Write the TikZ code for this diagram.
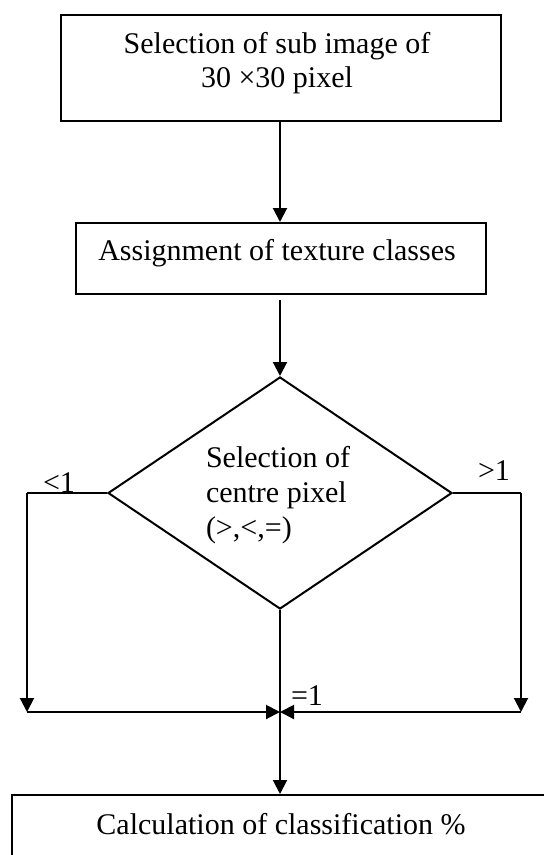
\documentclass[tikz,border=0pt]{standalone}
\usepackage{fontspec}
\setmainfont{Liberation Serif}
\usetikzlibrary{shapes.geometric,arrows.meta}
\begin{document}
\begin{tikzpicture}[x=0.4pt,y=-0.4pt,
  line width=0.8pt,
  tip/.style={-{Triangle[length=5.6pt,width=5.6pt]}},
  plain/.style={draw,rectangle,inner sep=0pt,anchor=north west},
  txt/.style={inner sep=0pt,font=\fontsize{12pt}{13.8pt}\selectfont,anchor=base},
  lbl/.style={inner sep=0pt,font=\fontsize{12pt}{13.8pt}\selectfont,anchor=base west}]
\useasboundingbox (0,0) rectangle (544,855);
\clip (0,0) rectangle (544,855);

% process boxes
\node[plain,minimum width=176pt,minimum height=42.4pt] (b1) at (60,14) {};
\node[txt] (t1a) at (277,53) {Selection of sub image of};
\node[txt] (t1b) at (277,87) {30 ×30 pixel};

\node[plain,minimum width=164pt,minimum height=28.4pt] (b2) at (75,222) {};
\node[txt] (t2) at (277,260) {Assignment of texture classes};

% decision
\node[draw,diamond,inner sep=0pt,minimum width=137.6pt,minimum height=92.8pt] (d) at (280,493) {};
\node[lbl] (t3a) at (205,467) {Selection of};
\node[lbl] (t3b) at (205,502) {centre pixel};
\node[lbl] (t3c) at (205,537) {(>,<,=)};

% final box, running off the bottom edge
\node[plain,minimum width=240pt,minimum height=40pt] (b3) at (11,794) {};
\node[txt] (t4) at (281,834) {Calculation of classification \%};

% corner points of the side branches
\coordinate (lb) at (27,712);
\coordinate (rb) at (521,712);
\coordinate (m) at (280,712);

% connectors
\draw[tip] (b1.south -| d) -- (b2.north -| d);
\draw[tip,shorten <=2pt] (b2.south -| d) -- (d.north);
\draw (d.west) -- (d.west -| lb);
\draw[tip] (d.west -| lb) -- (lb);
\draw (d.east) -- (d.east -| rb);
\draw[tip] (d.east -| rb) -- (rb);
\draw[tip] (lb) -- (m);
\draw[tip] (rb) -- (m);
\draw[tip] (d.south) -- (b3.north -| d.south);

% branch labels
\node[lbl] (l1) at (42,492) {<1};
\node[lbl] (l2) at (477,480) {>1};
\node[lbl] (l3) at (290,705) {=1};
\end{tikzpicture}
\end{document}
